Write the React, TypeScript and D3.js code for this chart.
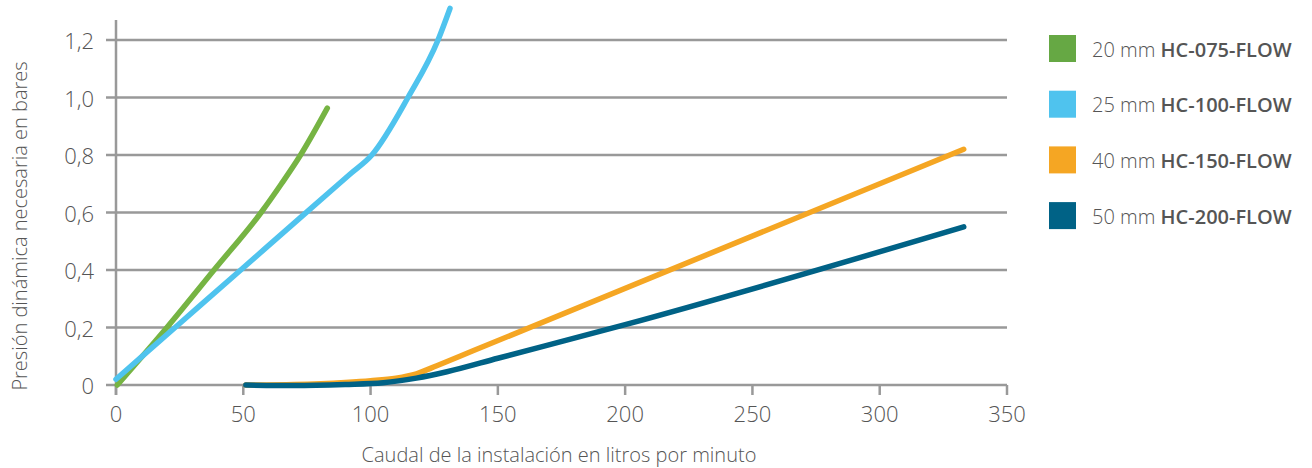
import React from "react";
import * as d3 from "d3";

type Pt = [number, number];

const seriesNames = ["HC-075-FLOW", "HC-100-FLOW", "HC-150-FLOW", "HC-200-FLOW"];
const seriesSizes = ["20 mm", "25 mm", "40 mm", "50 mm"];
const seriesColors = ["#76b443", "#4fc3ee", "#f5a623", "#006286"];
const legendColors = ["#66a844", "#4fc3ee", "#f5a623", "#006286"];

const hc075: Pt[] = [[0.5, 0], [20, 0.2], [38.5, 0.4], [57, 0.6], [65, 0.7], [72.5, 0.8], [83, 0.963]];
const hc100: Pt[] = [[0, 0.02], [25, 0.214], [50, 0.408], [75, 0.602], [92, 0.734], [100.5, 0.8], [114.7, 1.0], [126.5, 1.2], [131.2, 1.31]];
const hc150: Pt[] = [[51, 0], [70, 0.002], [90, 0.009], [100, 0.015], [110, 0.024], [118, 0.039], [126, 0.067], [140, 0.118], [333, 0.82]];
const hc200: Pt[] = [[51, 0], [70, -0.002], [90, 0.002], [105, 0.008], [118, 0.024], [130, 0.046], [150, 0.093], [200, 0.21], [333, 0.55]];
const seriesData = [hc075, hc100, hc150, hc200];

const xTicks = [0, 50, 100, 150, 200, 250, 300, 350];
const yTicks = [0, 0.2, 0.4, 0.6, 0.8, 1.0, 1.2];
const yTickLabels = ["0", "0,2", "0,4", "0,6", "0,8", "1,0", "1,2"];
const xTitle = "Caudal de la instalación en litros por minuto";
const yTitle = "Presión dinámica necesaria en bares";

const FONT = "'Open Sans', 'Noto Sans', sans-serif";
const TEXT = "#555";
const GRID = "#999";

export default function App() {
  const x = d3.scaleLinear().domain([0, 350]).range([116, 1007]);
  const y = d3.scaleLinear().domain([0, 1.2]).range([385, 40]);
  const line = d3
    .line<Pt>()
    .x((d) => x(d[0]))
    .y((d) => y(d[1]))
    .curve(d3.curveMonotoneX);

  return (
    <svg
      width={1312}
      height={468}
      style={{ position: "absolute", left: 0, top: 0, background: "#fff" }}
      fontFamily={FONT}
    >
      {yTicks.map((t) => (
        <line key={"g" + t} x1={106} x2={x(350)} y1={y(t)} y2={y(t)} stroke={GRID} strokeWidth={2.5} />
      ))}
      <line x1={x(0)} x2={x(0)} y1={y(1.27)} y2={y(0) + 10} stroke={GRID} strokeWidth={2.5} />
      {xTicks.map((t) => (
        <line key={"xt" + t} x1={x(t)} x2={x(t)} y1={y(0)} y2={y(0) + 10} stroke={GRID} strokeWidth={2.5} />
      ))}
      {yTicks.map((t, i) => (
        <text
          key={"yl" + t}
          x={94}
          y={y(t)}
          textAnchor="end"
          dominantBaseline="central"
          fontSize={22}
          fontWeight={300}
          fill={TEXT}
        >
          {yTickLabels[i]}
        </text>
      ))}
      {xTicks.map((t) => (
        <text
          key={"xl" + t}
          x={x(t)}
          y={413}
          textAnchor="middle"
          dominantBaseline="central"
          fontSize={22}
          fontWeight={300}
          fill={TEXT}
        >
          {t}
        </text>
      ))}
      <text x={559} y={462} textAnchor="middle" fontSize={20} fontWeight={300} fill={TEXT}>
        {xTitle}
      </text>
      <text
        transform={`translate(27, 226) rotate(-90)`}
        textAnchor="middle"
        fontSize={20}
        fontWeight={300}
        fill={TEXT}
      >
        {yTitle}
      </text>
      {seriesData.map((d, i) => (
        <path
          key={"s" + i}
          d={line(d) || ""}
          fill="none"
          stroke={seriesColors[i]}
          strokeWidth={5.5}
          strokeLinecap="round"
          strokeLinejoin="round"
        />
      ))}
      {seriesNames.map((n, i) => (
        <g key={"lg" + i} transform={`translate(1049, ${35 + i * 55.7})`}>
          <rect width={27} height={27} fill={legendColors[i]} />
          <text x={43} y={13.5} dominantBaseline="central" fontSize={20} fill={TEXT}>
            <tspan fontWeight={300}>{seriesSizes[i]} </tspan>
            <tspan fontWeight={600}>{n}</tspan>
          </text>
        </g>
      ))}
    </svg>
  );
}
